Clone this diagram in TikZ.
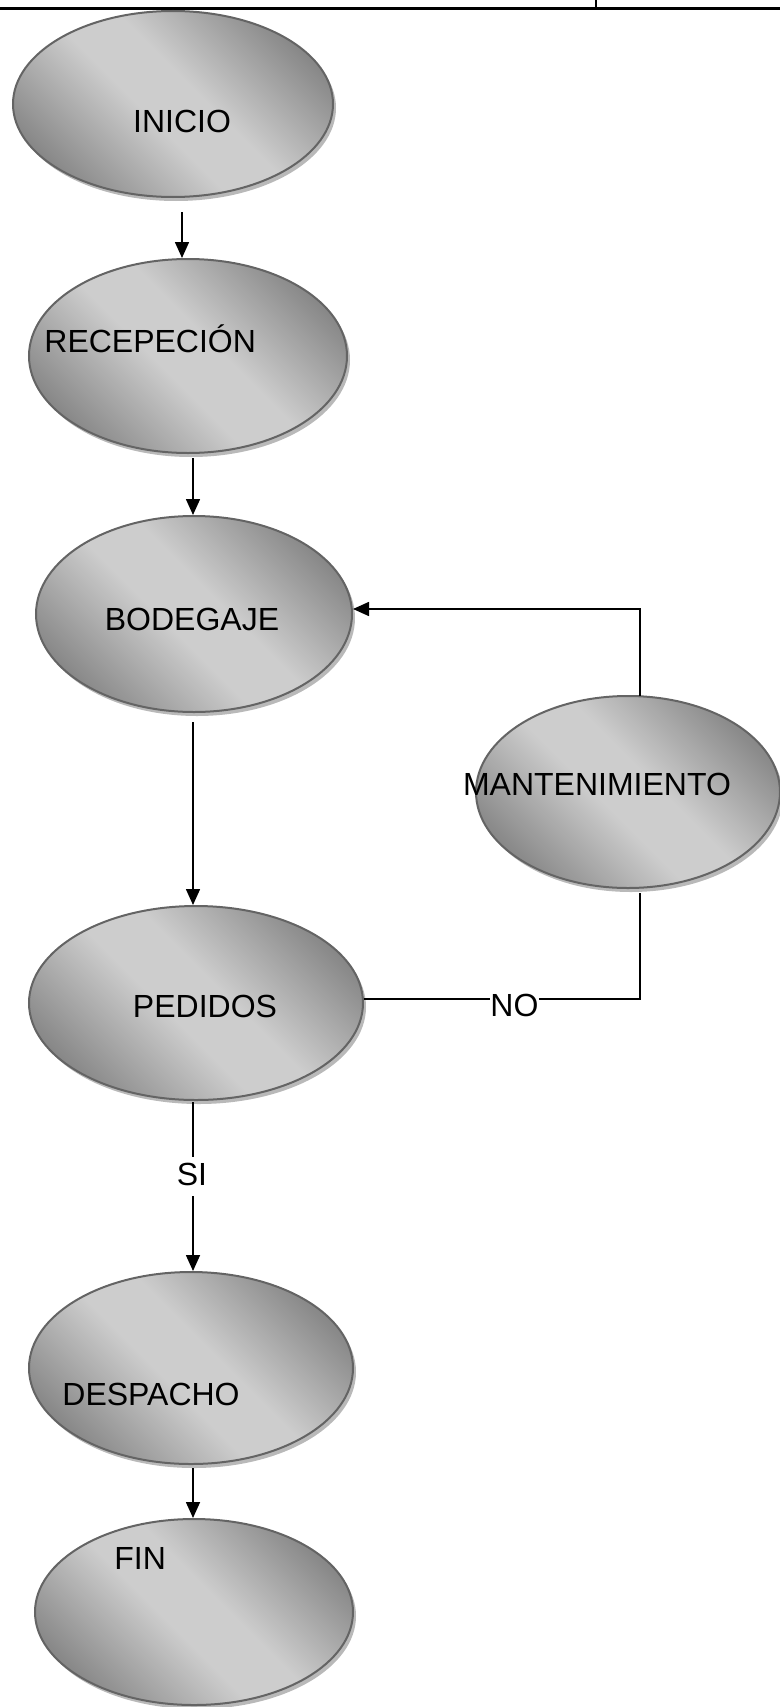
\documentclass[tikz,border=0pt]{standalone}
\usepackage{fontspec}
\setmainfont{Liberation Sans}
\usetikzlibrary{shapes.geometric,shadows,arrows.meta,calc}
\definecolor{ovdark}{RGB}{134,134,134}
\definecolor{ovlight}{RGB}{205,205,205}
\definecolor{ovline}{RGB}{100,100,100}
\definecolor{ovshadow}{RGB}{185,185,185}
\pgfdeclareverticalshading{ovshade}{100bp}{color(0bp)=(ovdark); color(24bp)=(ovdark); color(45bp)=(ovlight); color(55bp)=(ovlight); color(76bp)=(ovdark); color(100bp)=(ovdark)}
\begin{document}
\begin{tikzpicture}[x=0.5pt,y=-0.5pt,
 oval/.style={ellipse, draw=ovline, line width=1pt, inner sep=0pt,
   shade, shading=ovshade, shading angle=-45,
   drop shadow={shadow xshift=1.5pt, shadow yshift=-2pt, fill=ovshadow, opacity=1}},
 lbl/.style={font=\fontsize{16}{19}\selectfont, inner sep=0pt},
 conn/.style={line width=0.8pt, black},
 arr/.style={conn, -{Triangle[length=8pt,width=7pt]}}
]
\useasboundingbox (0,0) rectangle (780,1707);
% top frame
\draw[line width=1.5pt] (0,9) -- (780,9);
\draw[line width=0.75pt] (596,0) -- (596,9);
% ovals
\node[oval, minimum width=160pt, minimum height=93pt] (inicio) at (173,104) {};
\node[oval, minimum width=159pt, minimum height=97pt] (recep) at (188,356) {};
\node[oval, minimum width=158pt, minimum height=98pt] (bodeg) at (194,614) {};
\node[oval, minimum width=152pt, minimum height=96pt] (mant) at (628,792) {};
\node[oval, minimum width=167pt, minimum height=97pt] (ped) at (196,1003) {};
\node[oval, minimum width=162pt, minimum height=96pt] (desp) at (191,1368) {};
\node[oval, minimum width=159pt, minimum height=93pt] (fin) at (194,1612) {};
% texts
\node[lbl, anchor=base] (tinicio) at (182,132.5) {INICIO};
\node[lbl, anchor=base west] (trecep) at (44,352.5) {RECEPECIÓN};
\node[lbl, anchor=base] (tbodeg) at (192,630.5) {BODEGAJE};
\node[lbl, anchor=base] (tmant) at (597,795.5) {MANTENIMIENTO};
\node[lbl, anchor=base] (tped) at (205,1017.5) {PEDIDOS};
\node[lbl, anchor=base west] (tdesp) at (62,1405.5) {DESPACHO};
\node[lbl, anchor=base west] (tfin) at (114,1569.5) {FIN};
\node[lbl, anchor=base] (si) at (192,1185.5) {SI};
\node[lbl, anchor=base west] (no) at (490,1016.5) {NO};
% connectors
\coordinate (c1) at (182,212);
\draw[arr] (c1) -- (c1 |- recep.north);
\coordinate (c2) at (193,458);
\draw[arr] (c2) -- (c2 |- bodeg.north);
\coordinate (c3) at (193,722);
\draw[arr] (c3) -- (c3 |- ped.north);
\coordinate (s1) at (193,1102);
\coordinate (s2) at (193,1157);
\coordinate (s3) at (193,1196);
\draw[conn] (s1) -- (s2);
\draw[arr] (s3) -- (s3 |- desp.north);
\coordinate (c5) at (193,1468);
\draw[arr] (c5) -- (c5 |- fin.north);
% feedback loop
\coordinate (m1) at (640,696);
\coordinate (k1) at (640,609);
\draw[arr] (m1) -- (k1) -- (k1 -| bodeg.east);
\coordinate (n1) at (640,999);
\coordinate (m2) at (640,893);
\draw[conn] (n1 -| ped.east) -- (n1 -| no.west);
\draw[conn] (n1 -| no.east) -- (n1) -- (m2);
\end{tikzpicture}
\end{document}
